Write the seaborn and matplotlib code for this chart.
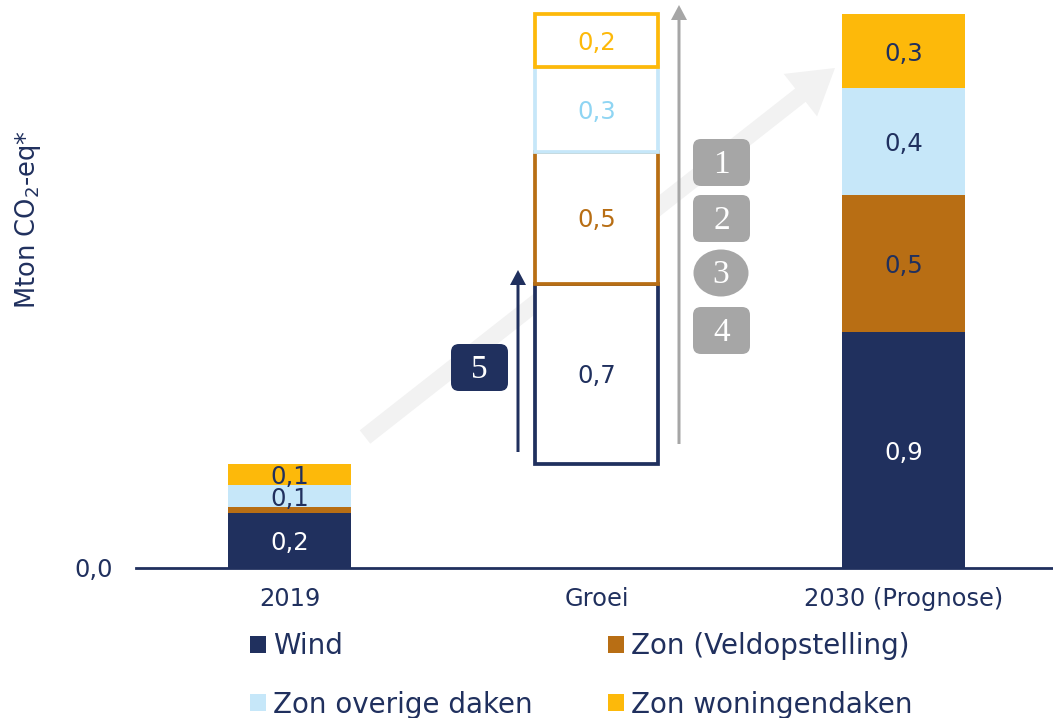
import matplotlib
matplotlib.use("Agg")
import matplotlib.pyplot as plt
import seaborn as sns
from matplotlib.patches import Ellipse, FancyArrow, FancyBboxPatch, Patch

# === Data ===
categories = ["2019", "Groei", "2030 (Prognose)"]
series_names = ["Wind", "Zon (Veldopstelling)", "Zon overige daken", "Zon woningendaken"]
values_2019 = [0.204, 0.022, 0.081, 0.079]
values_groei = [0.667, 0.489, 0.315, 0.196]
values_2030 = [0.874, 0.507, 0.396, 0.274]
labels_2019 = ["0,2", "", "0,1", "0,1"]
labels_groei = ["0,7", "0,5", "0,3", "0,2"]
labels_2030 = ["0,9", "0,5", "0,4", "0,3"]
y_tick_values = [0]
y_tick_labels = ["0,0"]
badge_numbers = ["1", "2", "3", "4", "5"]

# === Style ===
NAVY = "#20305E"
ORANGE = "#B86E14"
LIGHT_BLUE = "#C6E7F9"
YELLOW = "#FDB90A"
GREY = "#A6A6A6"
colors = [NAVY, ORANGE, LIGHT_BLUE, YELLOW]
groei_text_colors = [NAVY, ORANGE, "#8FD5F3", YELLOW]
solid_text_colors = ["white", NAVY, NAVY, NAVY]

sns.set_theme(style="white")
plt.rcParams["font.family"] = ["DejaVu Sans"]
plt.rcParams["mathtext.default"] = "regular"

W, H = 1053, 718
fig = plt.figure(figsize=(W / 100, H / 100), dpi=100)

# pixel-coordinate layers for the drawn annotations, one behind and one in front
back = fig.add_axes([0, 0, 1, 1], zorder=0)
front = fig.add_axes([0, 0, 1, 1], zorder=2)
for layer in (back, front):
    layer.set_xlim(0, W)
    layer.set_ylim(H, 0)
    layer.axis("off")

ax = fig.add_axes([136 / W, (H - 568) / H, 917 / W, 568 / H], zorder=1)
ax.patch.set_alpha(0)


# === Stacked bars ===
def draw_stack(category, values, labels, base, outlined, text_colors):
    bottom = base
    for value, color, label, text_color in zip(values, colors, labels, text_colors):
        if outlined:
            sns.barplot(x=[category], y=[value], order=categories, bottom=bottom, width=0.4,
                        color="white", saturation=1, edgecolor=color, linewidth=2.7, ax=ax)
        else:
            sns.barplot(x=[category], y=[value], order=categories, bottom=bottom, width=0.4,
                        color=color, saturation=1, linewidth=0, ax=ax)
        ax.annotate(label, (categories.index(category), bottom + value / 2), xytext=(0, -1.8),
                    textcoords="offset points", color=text_color, ha="center", va="center",
                    fontsize=17.6, zorder=5)
        bottom += value


draw_stack(categories[0], values_2019, labels_2019, 0, False, solid_text_colors)
draw_stack(categories[1], values_groei, labels_groei, sum(values_2019), True, groei_text_colors)
draw_stack(categories[2], values_2030, labels_2030, 0, False, solid_text_colors)

# === Axes ===
ax.set_xlim(-0.5, 2.487)
ax.set_ylim(0, 568 / 270)
ax.set_xlabel("")
ax.set_ylabel(r"Mton CO$_2$-eq*", fontsize=18.5, color=NAVY)
ax.yaxis.set_label_coords((43 - 136) / 917, (568 - 220) / 568)
ax.set_yticks(y_tick_values, y_tick_labels)
ax.tick_params(axis="x", length=0, pad=14, labelsize=17.4, labelcolor=NAVY)
ax.tick_params(axis="y", length=0, pad=17, labelsize=17.4, labelcolor=NAVY)
sns.despine(ax=ax, left=True)
ax.spines["bottom"].set_color(NAVY)
ax.spines["bottom"].set_linewidth(2)

# === Arrows ===
back.add_patch(FancyArrow(365, 437, 470, -369, width=17, head_width=54, head_length=44,
                          length_includes_head=True, color="#F2F2F2", lw=0))
front.add_patch(FancyArrow(679, 444, 0, -439, width=3, head_width=16, head_length=15,
                           length_includes_head=True, color=GREY, lw=0))
front.add_patch(FancyArrow(518, 452, 0, -182, width=3, head_width=16, head_length=15,
                           length_includes_head=True, color=NAVY, lw=0))

# === Badges ===
badge_boxes = [(693, 139, GREY), (693, 195, GREY), None, (693, 307, GREY), (451, 344, NAVY)]
for number, box in zip(badge_numbers, badge_boxes):
    if box is None:
        front.add_patch(Ellipse((721, 273), 55, 47, color=GREY, lw=0))
        cx, cy = 721, 273
    else:
        x0, y0, color = box
        w, h = 57, 47
        front.add_patch(FancyBboxPatch((x0 + 8, y0 + 8), w - 16, h - 16,
                                       boxstyle="round,pad=8,rounding_size=8", color=color, lw=0))
        cx, cy = x0 + w / 2, y0 + h / 2
    front.text(cx, cy + 2, number, color="white", ha="center", va="center",
               fontsize=24, family="Liberation Serif")

# === Legend ===
legend_order = [0, 2, 1, 3]  # columns fill top to bottom
handles = [Patch(color=colors[i], lw=0) for i in legend_order]
names = [series_names[i] for i in legend_order]
fig.legend(handles, names, ncol=2, loc="upper left", bbox_to_anchor=(250 / W, 1 - 632 / H),
           frameon=False, fontsize=20, labelcolor=NAVY, handlelength=0.58, handleheight=0.58,
           handletextpad=0.25, labelspacing=1.1, columnspacing=2.72, borderpad=0, borderaxespad=0)

plt.savefig("out.png", dpi=100)
plt.close()
